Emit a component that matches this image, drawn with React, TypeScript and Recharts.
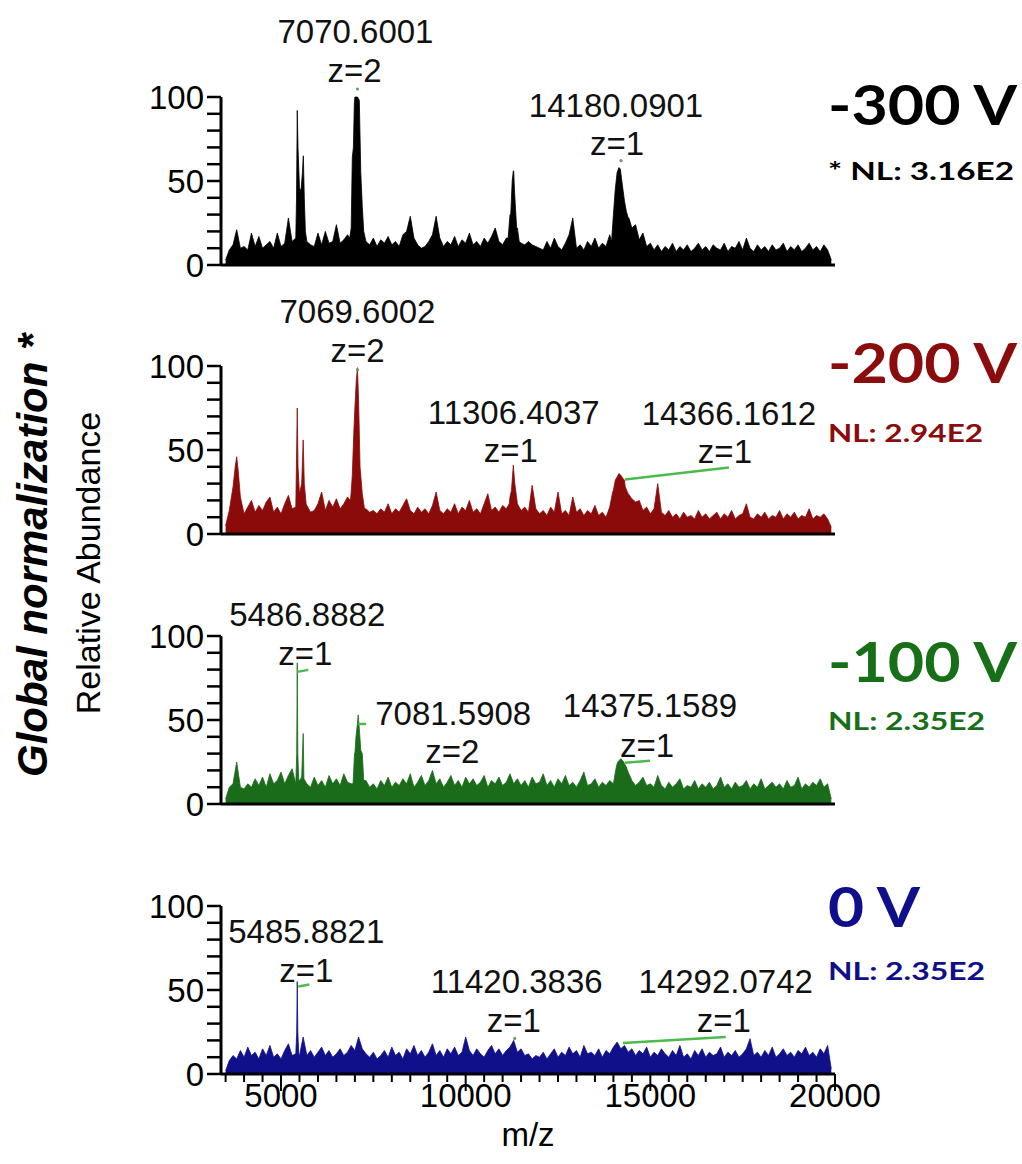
import React from 'react';
import { AreaChart, Area, XAxis, YAxis, ReferenceDot, Label } from 'recharts';

// m/z grid of the sampled background (every 100 from 3500)
const MZ_START = 3500;
const MZ_STEP = 100;

// relative abundance read along the grid, 3500 .. 19900
const noiseM300 = [
  3, 9, 12, 21, 10, 11, 9, 19, 11, 17,
  10, 12, 14, 10, 19, 11, 13, 28, 14, 16,
  46, 64, 14, 12, 11, 19, 12, 20, 13, 14,
  24, 13, 15, 18, 22, 100, 99, 35, 14, 12,
  16, 11, 15, 13, 17, 12, 14, 11, 18, 20,
  29, 16, 12, 10, 11, 14, 18, 29, 16, 11,
  14, 12, 17, 11, 15, 13, 19, 12, 14, 11,
  16, 13, 17, 22, 14, 12, 16, 30, 56, 22,
  13, 12, 14, 12, 11, 10, 9, 14, 10, 16,
  11, 9, 13, 18, 28, 10, 12, 9, 14, 11,
  16, 10, 13, 11, 18, 30, 55, 55, 38, 28,
  22, 24, 15, 19, 11, 13, 9, 12, 8, 11,
  9, 13, 8, 11, 9, 12, 8, 10, 13, 9,
  11, 8, 12, 10, 9, 13, 8, 11, 10, 14,
  9, 16, 10, 8, 12, 9, 11, 8, 12, 9,
  10, 13, 8, 11, 9, 12, 8, 10, 13, 9,
  11, 8, 12, 9, 3,
];
const peaksM300: [number, number][] = [
  [5420, 40], [5440, 92], [5460, 70], [5540, 44], [5580, 55], [5605, 65], [5630, 40], [5660, 20],
  [6860, 16], [6900, 22], [6930, 64], [6960, 70], [6985, 96], [7020, 100], [7070, 100], [7120, 98],
  [7160, 55], [7200, 35], [7240, 20], [7300, 14],
  [11150, 16], [11220, 30], [11260, 50], [11290, 56], [11320, 45], [11380, 22], [11450, 14],
  [13950, 14], [14000, 30], [14050, 45], [14100, 55], [14150, 58], [14190, 57], [14240, 48],
  [14300, 38], [14350, 32], [14420, 28], [14500, 22], [14600, 24], [14700, 15],
];

const noiseM200 = [
  5, 14, 28, 46, 22, 12, 16, 20, 13, 17,
  14, 19, 22, 13, 16, 12, 18, 23, 15, 16,
  24, 56, 17, 13, 14, 18, 25, 14, 20, 16,
  21, 15, 18, 22, 25, 75, 80, 24, 15, 13,
  14, 12, 15, 13, 18, 12, 15, 13, 17, 21,
  14, 12, 16, 13, 15, 12, 17, 25, 14, 12,
  15, 13, 18, 12, 16, 14, 20, 13, 15, 12,
  18, 24, 14, 16, 13, 17, 15, 22, 38, 18,
  14, 16, 13, 29, 15, 12, 14, 11, 16, 13,
  25, 12, 14, 11, 22, 13, 15, 11, 14, 12,
  17, 11, 13, 10, 16, 26, 34, 35, 32, 24,
  21, 19, 20, 14, 16, 12, 15, 30, 13, 11,
  14, 10, 12, 9, 13, 10, 11, 9, 14, 10,
  12, 9, 11, 13, 9, 12, 10, 14, 9, 11,
  12, 18, 10, 9, 12, 10, 13, 9, 11, 10,
  14, 9, 12, 10, 13, 9, 11, 10, 15, 9,
  11, 10, 12, 9, 4,
];
const peaksM200: [number, number][] = [
  [3500, 5], [3600, 14], [3700, 28], [3760, 40], [3800, 46], [3840, 38], [3900, 22], [4000, 12],
  [5420, 45], [5440, 75], [5460, 40], [5500, 24], [5560, 30], [5600, 56], [5630, 30], [5680, 18],
  [6880, 20], [6930, 35], [6970, 60], [7000, 75], [7040, 92], [7070, 99], [7100, 80], [7140, 40],
  [7200, 24], [7260, 15],
  [11180, 18], [11240, 26], [11290, 41], [11330, 30], [11400, 18],
  [13900, 16], [13980, 25], [14050, 32], [14100, 34], [14150, 36], [14200, 35], [14260, 33],
  [14320, 28], [14400, 24], [14500, 21], [14600, 19],
];

const noiseM100 = [
  3, 10, 12, 25, 10, 9, 12, 10, 15, 11,
  16, 10, 18, 12, 14, 19, 12, 17, 21, 12,
  14, 42, 12, 10, 16, 11, 14, 10, 17, 12,
  15, 11, 18, 13, 12, 30, 50, 30, 14, 10,
  12, 9, 14, 11, 16, 10, 13, 11, 15, 12,
  18, 10, 13, 17, 11, 14, 20, 12, 15, 10,
  13, 17, 11, 14, 10, 16, 12, 15, 11, 13,
  17, 10, 14, 12, 16, 11, 13, 18, 12, 15,
  11, 14, 10, 16, 12, 13, 18, 11, 14, 10,
  15, 12, 17, 11, 13, 10, 14, 19, 11, 12,
  15, 10, 13, 11, 14, 12, 24, 27, 24, 19,
  14, 11, 13, 16, 11, 12, 10, 17, 11, 9,
  13, 10, 12, 15, 9, 11, 10, 14, 9, 12,
  10, 13, 9, 11, 16, 10, 12, 9, 13, 10,
  11, 14, 9, 12, 10, 15, 9, 11, 13, 10,
  12, 9, 14, 10, 11, 16, 9, 12, 10, 13,
  11, 15, 10, 12, 3,
];
const peaksM100: [number, number][] = [
  [5400, 12], [5425, 30], [5440, 84], [5455, 30], [5480, 14], [5560, 16], [5600, 42], [5620, 15],
  [6950, 12], [6990, 30], [7030, 40], [7070, 48], [7090, 53], [7120, 45], [7160, 32], [7200, 30],
  [7240, 14],
  [14000, 12], [14060, 20], [14120, 25], [14200, 27], [14280, 25], [14350, 22], [14420, 18],
  [14500, 14],
];

const noiseZero = [
  2, 8, 11, 9, 14, 10, 16, 11, 13, 9,
  15, 11, 17, 10, 12, 9, 14, 18, 11, 12,
  11, 22, 11, 14, 10, 13, 16, 11, 14, 10,
  12, 15, 11, 13, 17, 14, 22, 15, 12, 10,
  13, 9, 11, 14, 10, 16, 11, 13, 9, 15,
  12, 17, 11, 14, 10, 13, 18, 11, 14, 10,
  15, 12, 16, 11, 13, 22, 14, 11, 15, 12,
  10, 14, 17, 12, 15, 11, 14, 16, 20, 13,
  15, 11, 12, 9, 11, 10, 13, 9, 12, 15,
  10, 13, 11, 16, 12, 14, 10, 17, 12, 13,
  11, 15, 10, 14, 12, 16, 19, 15, 17, 13,
  15, 11, 14, 12, 16, 10, 13, 11, 15, 12,
  10, 14, 11, 17, 10, 12, 9, 14, 11, 15,
  10, 13, 11, 12, 16, 10, 13, 11, 14, 10,
  12, 15, 21, 11, 13, 10, 14, 11, 16, 10,
  12, 15, 11, 13, 10, 14, 12, 16, 11, 13,
  10, 15, 12, 17, 3,
];
const peaksZero: [number, number][] = [
  [5400, 12], [5425, 25], [5440, 55], [5455, 25], [5480, 12], [5600, 22],
];

// axis ticks
const yTicks = [0, 10, 20, 30, 40, 50, 60, 70, 80, 90, 100];
const yLabels = [0, 50, 100];
const xTicks = [
  3500, 4000, 4500, 5000, 5500, 6000, 6500, 7000, 7500, 8000, 8500, 9000, 9500, 10000,
  10500, 11000, 11500, 12000, 12500, 13000, 13500, 14000, 14500, 15000, 15500, 16000,
  16500, 17000, 17500, 18000, 18500, 19000, 19500, 20000,
];
const xLabels = [5000, 10000, 15000, 20000];

// peak annotations: where the label points on the spectrum, and its text
type Annotation = { mz: number; top: number; mass: string; charge: string };
const annM300: Annotation[] = [
  { mz: 7070, top: 100, mass: '7070.6001', charge: 'z=2' },
  { mz: 14180, top: 58, mass: '14180.0901', charge: 'z=1' },
];
const annM200: Annotation[] = [
  { mz: 7070, top: 99, mass: '7069.6002', charge: 'z=2' },
  { mz: 11300, top: 41, mass: '11306.4037', charge: 'z=1' },
  { mz: 14366, top: 33, mass: '14366.1612', charge: 'z=1' },
];
const annM100: Annotation[] = [
  { mz: 5440, top: 84, mass: '5486.8882', charge: 'z=1' },
  { mz: 7090, top: 53, mass: '7081.5908', charge: 'z=2' },
  { mz: 14260, top: 27, mass: '14375.1589', charge: 'z=1' },
];
const annZero: Annotation[] = [
  { mz: 5440, top: 55, mass: '5485.8821', charge: 'z=1' },
  { mz: 11300, top: 20, mass: '11420.3836', charge: 'z=1' },
  { mz: 14090, top: 19, mass: '14292.0742', charge: 'z=1' },
];

const voltages = ['-300 V', '-200 V', '-100 V', '0 V'];
const normLevels = ['* NL: 3.16E2', 'NL: 2.94E2', 'NL: 2.35E2', 'NL: 2.35E2'];

// label placement in px relative to the annotated point
type Place = { dx1: number; dy1: number; dx2: number; dy2: number; lead?: number[]; dot?: number[] };
const placeM300: Place[] = [
  { dx1: -2, dy1: -54, dx2: -3, dy2: -15, dot: [0, -8] },
  { dx1: -4, dy1: -51, dx2: -3, dy2: -13, dot: [1, -7] },
];
const placeM200: Place[] = [
  { dx1: 0, dy1: -45, dx2: 0, dy2: -6, dot: [0, 2] },
  { dx1: 0, dy1: -41, dx2: -3, dy2: -3 },
  { dx1: 102, dy1: -54, dx2: 98, dy2: -16, lead: [-2, 1, 102, -11] },
];
const placeM100: Place[] = [
  { dx1: 10, dy1: -37, dx2: 8, dy2: 2, lead: [0, 9, 11, 7] },
  { dx1: 95, dy1: 10, dx2: 94, dy2: 48, lead: [0, 9, 8, 9] },
  { dx1: 27, dy1: -42, dx2: 24, dy2: -2, lead: [2, 4, 27, 2] },
];
const placeZero: Place[] = [
  { dx1: 9, dy1: -39, dx2: 9, dy2: 0, lead: [1, 5, 12, 3] },
  { dx1: 3, dy1: -47, dx2: 0, dy2: -8, dot: [1, -2] },
  { dx1: 109, dy1: -49, dx2: 107, dy2: -10, lead: [6, 1, 109, -5] },
];

const SANS = '"Liberation Sans", Arial, sans-serif';
const CALIBRI = 'Lato, "Open Sans", sans-serif';
const LEAD = '#4cbb4c';

function buildSpectrum(noise: number[], peaks: [number, number][]) {
  const map = new Map<number, number>();
  noise.forEach((v, i) => map.set(MZ_START + i * MZ_STEP, v));
  peaks.forEach(([mz, v]) => map.set(mz, v));
  return [...map.entries()].sort((a, b) => a[0] - b[0]).map(([mz, v]) => ({ mz, v }));
}

const YTick = (props: any) => {
  const { x, y, payload } = props;
  const v = payload.value;
  return (
    <g>
      <line x1={x - 14} x2={x} y1={y} y2={y} stroke="#000" strokeWidth={2.5} />
      {yLabels.includes(v) && (
        <text x={x - 17} y={y + 12} textAnchor="end" fontSize={33} fontFamily={SANS} fill="#000">
          {v}
        </text>
      )}
    </g>
  );
};

const XTick = (props: any) => {
  const { x, y, payload } = props;
  const major = xLabels.includes(payload.value);
  return (
    <g>
      <line x1={x} x2={x} y1={y} y2={y + (major ? 17 : 8)} stroke="#000" strokeWidth={2} />
      {major && (
        <text x={x} y={y + 33} textAnchor="middle" fontSize={33} fontFamily={SANS} fill="#000">
          {payload.value}
        </text>
      )}
    </g>
  );
};

const AnnotationMark = ({ cx, cy, a, p }: { cx: number; cy: number; a: Annotation; p: Place }) => (
  <g>
    {p.lead && (
      <line x1={cx + p.lead[0]} y1={cy + p.lead[1]} x2={cx + p.lead[2]} y2={cy + p.lead[3]} stroke={LEAD} strokeWidth={2.5} />
    )}
    {p.dot && <circle cx={cx + p.dot[0]} cy={cy + p.dot[1]} r={1.6} fill="#6f9a6f" />}
    <text x={cx + p.dx1} y={cy + p.dy1} textAnchor="middle" fontSize={33} fontFamily={SANS} fill="#111">
      {a.mass}
    </text>
    <text x={cx + p.dx2} y={cy + p.dy2} textAnchor="middle" fontSize={33} fontFamily={SANS} fill="#111">
      {a.charge}
    </text>
  </g>
);

type PanelProps = {
  top: number;
  color: string;
  data: { mz: number; v: number }[];
  ann: Annotation[];
  place: Place[];
  bottom?: boolean;
};

const Panel = ({ top, color, data, ann, place, bottom }: PanelProps) => (
  <div style={{ position: 'absolute', left: 0, top }}>
    <AreaChart
      width={1022}
      height={bottom ? 354 : 285}
      data={data}
      margin={{ top: 97, right: 187, bottom: bottom ? 0 : 15, left: 0 }}
    >
      <XAxis
        type="number"
        dataKey="mz"
        domain={[3375, 20000]}
        allowDataOverflow
        ticks={xTicks}
        interval={0}
        tick={bottom ? <XTick /> : false}
        tickLine={false}
        tickSize={0}
        tickMargin={0}
        height={bottom ? 89 : 5}
        axisLine={{ stroke: '#000', strokeWidth: 3 }}
      >
        {bottom && (
          <Label value="m/z" position="insideBottom" offset={17} fontSize={33} fontFamily={SANS} fill="#000" />
        )}
      </XAxis>
      <YAxis
        domain={[0, 100]}
        ticks={yTicks}
        interval={0}
        width={221}
        tick={<YTick />}
        tickLine={false}
        tickSize={0}
        tickMargin={0}
        axisLine={{ stroke: '#000', strokeWidth: 3 }}
      />
      <Area
        type="linear"
        dataKey="v"
        stroke={color}
        strokeWidth={0.8}
        fill={color}
        fillOpacity={1}
        dot={false}
        activeDot={false}
        isAnimationActive={false}
      />
      {ann.map((a, i) => (
        <ReferenceDot
          key={a.mass}
          x={a.mz}
          y={a.top}
          r={0}
          ifOverflow="visible"
          shape={(s: any) => <AnnotationMark cx={s.cx} cy={s.cy} a={a} p={place[i]} />}
        />
      ))}
    </AreaChart>
  </div>
);

const labelColors = ['#000000', '#8b0c0c', '#177017', '#0f0f8c'];
const voltBase = [125, 383, 682, 927];
const nlBase = [180, 442, 730, 980];
const nlWidth = [186, 155, 157, 157];

const App = () => {
  const spectra = [
    { color: '#000000', data: buildSpectrum(noiseM300, peaksM300), ann: annM300, place: placeM300 },
    { color: '#8b0a0a', data: buildSpectrum(noiseM200, peaksM200), ann: annM200, place: placeM200 },
    { color: '#1a6b1a', data: buildSpectrum(noiseM100, peaksM100), ann: annM100, place: placeM100 },
    { color: '#10108a', data: buildSpectrum(noiseZero, peaksZero), ann: annZero, place: placeZero },
  ];
  const tops = [0, 269, 539, 809];

  return (
    <div style={{ position: 'absolute', left: 0, top: 0, width: 1022, height: 1164, background: '#fff', overflow: 'hidden' }}>
      {spectra.map((s, i) => (
        <Panel key={i} top={tops[i]} color={s.color} data={s.data} ann={s.ann} place={s.place} bottom={i === 3} />
      ))}
      <svg width={1022} height={1164} style={{ position: 'absolute', left: 0, top: 0, pointerEvents: 'none' }}>
        <text
          transform="translate(47,777) rotate(-90)"
          fontSize={42}
          fontWeight="bold"
          fontStyle="italic"
          fontFamily={SANS}
          fill="#000"
        >
          Global normalization *
        </text>
        <text transform="translate(100,563) rotate(-90)" textAnchor="middle" fontSize={34} fontFamily={SANS} fill="#000">
          Relative Abundance
        </text>
        {voltages.map((v, i) => (
          <g key={v}>
            <text
              x={828}
              y={voltBase[i]}
              fontSize={56}
              fontWeight="bold"
              fontFamily={CALIBRI}
              fill={labelColors[i]}
              textLength={i === 3 ? 92 : 189}
              lengthAdjust="spacingAndGlyphs"
            >
              {v}
            </text>
            <text
              x={828}
              y={nlBase[i]}
              fontSize={25}
              fontWeight="bold"
              fontFamily={CALIBRI}
              fill={labelColors[i]}
              textLength={nlWidth[i]}
              lengthAdjust="spacingAndGlyphs"
            >
              {normLevels[i]}
            </text>
          </g>
        ))}
      </svg>
    </div>
  );
};

export default App;
